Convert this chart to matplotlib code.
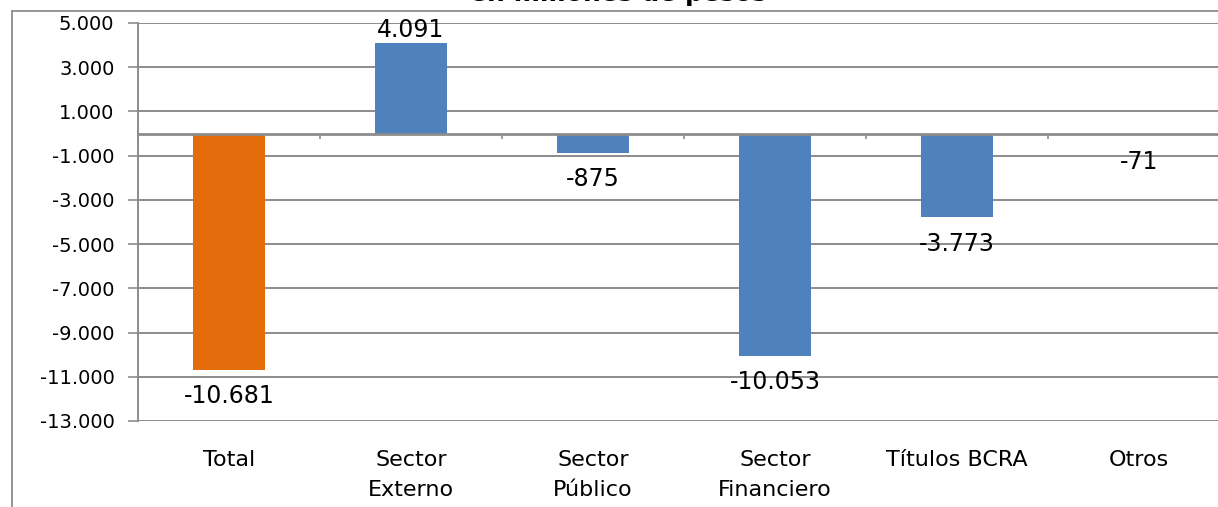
import numpy as np
import matplotlib.pyplot as plt
from matplotlib.lines import Line2D

# datos
categorias = ['Total', 'Sector\nExterno', 'Sector\nPúblico', 'Sector\nFinanciero', 'Títulos BCRA', 'Otros']
valores = [-10681, 4091, -875, -10053, -3773, -71]
colores = ['#E46C0A', '#4F81BD', '#4F81BD', '#4F81BD', '#4F81BD', '#4F81BD']
ticks_y = [5000, 3000, 1000, -1000, -3000, -5000, -7000, -9000, -11000, -13000]

plt.rcParams['font.family'] = ['DejaVu Sans']

W, H = 1218, 507
fig = plt.figure(figsize=(W / 100, H / 100), dpi=100)
left, right, top, bottom = 138, 138 + 6 * 182, 23, 421
ax = fig.add_axes([left / W, 1 - bottom / H, (right - left) / W, (bottom - top) / H])

x = np.arange(len(categorias))
ax.bar(x, valores, width=0.4, color=colores, zorder=3)

ax.set_xlim(-0.5, len(categorias) - 0.5)
ax.set_ylim(-13000, 5000)
ax.set_yticks(ticks_y)
ax.set_yticklabels([f'{v:,}'.replace(',', '.') for v in ticks_y], fontsize=14)
ax.yaxis.grid(True, color='#8C8C8C', linewidth=1.4, zorder=0)
ax.tick_params(axis='y', length=7, color='#8C8C8C', width=1.2, pad=10)

# eje de categorias sobre el cero
ax.axhline(0, color='#8C8C8C', linewidth=2, zorder=4)
ax.vlines(np.arange(len(categorias)) - 0.5, -250, 0, color='#8C8C8C', linewidth=1.2, zorder=4)
ax.set_xticks(x)
ax.set_xticklabels([])
ax.tick_params(axis='x', length=0)
for xi, c in zip(x, categorias):
    ax.text(xi, -14330, c, ha='center', va='top', fontsize=16, linespacing=1.6)

for s in ['top', 'right', 'bottom']:
    ax.spines[s].set_visible(False)
ax.spines['left'].set_color('#8C8C8C')
ax.spines['left'].set_linewidth(1.4)

# etiquetas de datos
for xi, v in zip(x, valores):
    txt = f'{v:,}'.replace(',', '.')
    if v >= 0:
        ax.annotate(txt, (xi, v), xytext=(0, 1), textcoords='offset points',
                    ha='center', va='bottom', fontsize=17)
    else:
        ax.annotate(txt, (xi, v), xytext=(0, -10.5), textcoords='offset points',
                    ha='center', va='top', fontsize=17)

# marco exterior del grafico
fig.add_artist(Line2D([12 / W, 12 / W], [0, 1 - 11 / H], color='#8C8C8C', linewidth=1.3))
fig.add_artist(Line2D([12 / W, 1], [1 - 11 / H, 1 - 11 / H], color='#8C8C8C', linewidth=1.3))

fig.text(618 / W, 1 - 1 / H, 'en millones de pesos', ha='center', va='baseline',
         fontsize=18, fontweight='bold')

fig.savefig('out.png', dpi=100, facecolor='white')
